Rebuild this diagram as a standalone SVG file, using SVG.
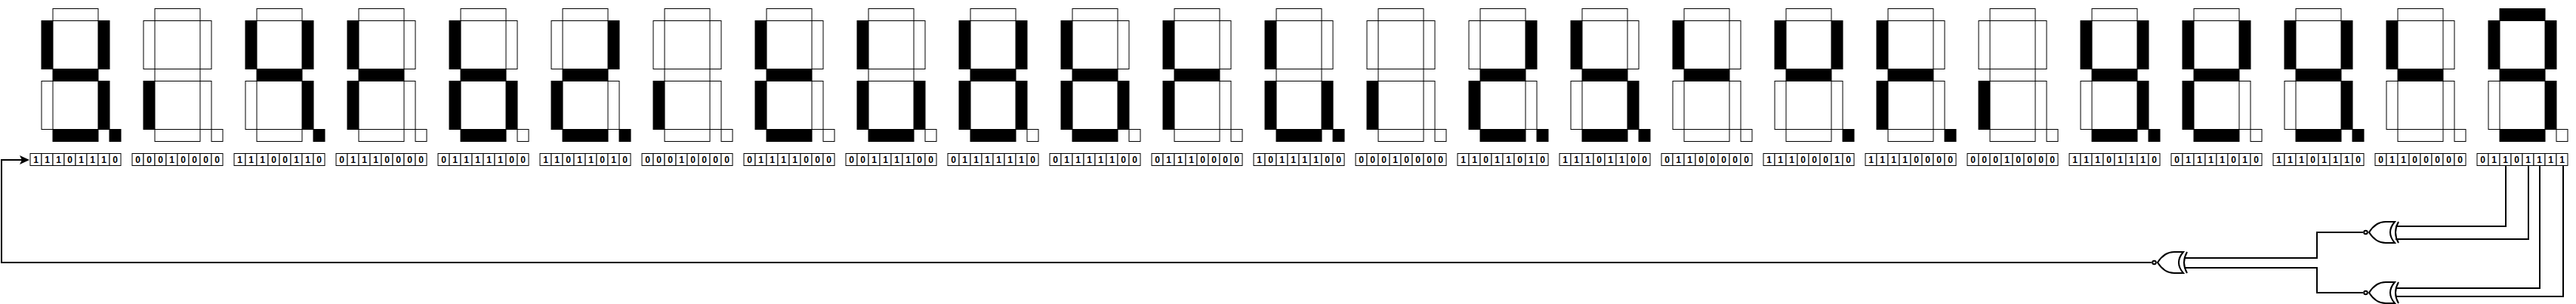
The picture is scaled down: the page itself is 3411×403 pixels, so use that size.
<svg xmlns="http://www.w3.org/2000/svg" width="3411" height="403" viewBox="0 0 3411 403">
<style>
.o{fill:#fff;stroke:#000;stroke-width:1}
.n{fill:#000;stroke:#000;stroke-width:1}
.c{fill:#fff;stroke:#000;stroke-width:1}
.b{font-family:"Liberation Sans",Arial,sans-serif;font-size:12px;font-weight:bold;text-anchor:middle;fill:#000}
.w{fill:none;stroke:#000;stroke-width:2;stroke-linejoin:miter}
.g{fill:#fff;stroke:#000;stroke-width:2;stroke-linejoin:miter}
.g2{fill:none;stroke:#000;stroke-width:2}
</style>
<defs>
<rect id="a" x="70" y="11.5" width="60" height="16"/>
<rect id="b" x="130" y="27.5" width="15" height="64"/>
<rect id="c" x="130" y="107.5" width="15" height="64"/>
<rect id="d" x="70" y="171.5" width="60" height="16"/>
<rect id="e" x="55" y="107.5" width="15" height="64"/>
<rect id="f" x="55" y="27.5" width="15" height="64"/>
<rect id="m" x="70" y="91.5" width="60" height="16"/>
<rect id="p" x="145" y="171.5" width="15" height="16"/>
<g id="cells" class="c">
<rect x="40" y="203.5" width="15" height="16"/><rect x="55" y="203.5" width="15" height="16"/><rect x="70" y="203.5" width="15" height="16"/><rect x="85" y="203.5" width="15" height="16"/><rect x="100" y="203.5" width="15" height="16"/><rect x="115" y="203.5" width="15" height="16"/><rect x="130" y="203.5" width="15" height="16"/><rect x="145" y="203.5" width="15" height="16"/>
</g>
<g id="xnor">
<path class="g" d="M0 0C5-8 11-14 22-14H34Q22 0 34 14H22C11 14 5 8 0 0Z"/>
<path class="g2" d="M39-14Q31 0 39 14"/>
<circle class="g" cx="-4.5" cy="0" r="2.3"/>
</g>
<marker id="arrow" markerUnits="userSpaceOnUse" markerWidth="13" markerHeight="12" viewBox="0 0 13 12" refX="3" refY="6" orient="auto"><path d="M0 0L13 6L0 12L3 6Z" fill="#000"/></marker>
</defs>
<g id="digit-0"><use href="#p" class="n"/><use href="#m" class="n"/><use href="#f" class="n"/><use href="#e" class="o"/><use href="#d" class="n"/><use href="#c" class="n"/><use href="#b" class="n"/><use href="#a" class="o"/><use href="#cells"/><text class="b" x="47.5" y="216">1</text><text class="b" x="62.5" y="216">1</text><text class="b" x="77.5" y="216">1</text><text class="b" x="92.5" y="216">0</text><text class="b" x="107.5" y="216">1</text><text class="b" x="122.5" y="216">1</text><text class="b" x="137.5" y="216">1</text><text class="b" x="152.5" y="216">0</text></g>
<g id="digit-1" transform="translate(135 0)"><use href="#p" class="o"/><use href="#m" class="o"/><use href="#f" class="o"/><use href="#e" class="n"/><use href="#d" class="o"/><use href="#c" class="o"/><use href="#b" class="o"/><use href="#a" class="o"/><use href="#cells"/><text class="b" x="47.5" y="216">0</text><text class="b" x="62.5" y="216">0</text><text class="b" x="77.5" y="216">0</text><text class="b" x="92.5" y="216">1</text><text class="b" x="107.5" y="216">0</text><text class="b" x="122.5" y="216">0</text><text class="b" x="137.5" y="216">0</text><text class="b" x="152.5" y="216">0</text></g>
<g id="digit-2" transform="translate(270 0)"><use href="#p" class="n"/><use href="#m" class="n"/><use href="#f" class="n"/><use href="#e" class="o"/><use href="#d" class="o"/><use href="#c" class="n"/><use href="#b" class="n"/><use href="#a" class="o"/><use href="#cells"/><text class="b" x="47.5" y="216">1</text><text class="b" x="62.5" y="216">1</text><text class="b" x="77.5" y="216">1</text><text class="b" x="92.5" y="216">0</text><text class="b" x="107.5" y="216">0</text><text class="b" x="122.5" y="216">1</text><text class="b" x="137.5" y="216">1</text><text class="b" x="152.5" y="216">0</text></g>
<g id="digit-3" transform="translate(405 0)"><use href="#p" class="o"/><use href="#m" class="n"/><use href="#f" class="n"/><use href="#e" class="n"/><use href="#d" class="o"/><use href="#c" class="o"/><use href="#b" class="o"/><use href="#a" class="o"/><use href="#cells"/><text class="b" x="47.5" y="216">0</text><text class="b" x="62.5" y="216">1</text><text class="b" x="77.5" y="216">1</text><text class="b" x="92.5" y="216">1</text><text class="b" x="107.5" y="216">0</text><text class="b" x="122.5" y="216">0</text><text class="b" x="137.5" y="216">0</text><text class="b" x="152.5" y="216">0</text></g>
<g id="digit-4" transform="translate(540 0)"><use href="#p" class="o"/><use href="#m" class="n"/><use href="#f" class="n"/><use href="#e" class="n"/><use href="#d" class="n"/><use href="#c" class="n"/><use href="#b" class="o"/><use href="#a" class="o"/><use href="#cells"/><text class="b" x="47.5" y="216">0</text><text class="b" x="62.5" y="216">1</text><text class="b" x="77.5" y="216">1</text><text class="b" x="92.5" y="216">1</text><text class="b" x="107.5" y="216">1</text><text class="b" x="122.5" y="216">1</text><text class="b" x="137.5" y="216">0</text><text class="b" x="152.5" y="216">0</text></g>
<g id="digit-5" transform="translate(675 0)"><use href="#p" class="n"/><use href="#m" class="n"/><use href="#f" class="o"/><use href="#e" class="n"/><use href="#d" class="n"/><use href="#c" class="o"/><use href="#b" class="n"/><use href="#a" class="o"/><use href="#cells"/><text class="b" x="47.5" y="216">1</text><text class="b" x="62.5" y="216">1</text><text class="b" x="77.5" y="216">0</text><text class="b" x="92.5" y="216">1</text><text class="b" x="107.5" y="216">1</text><text class="b" x="122.5" y="216">0</text><text class="b" x="137.5" y="216">1</text><text class="b" x="152.5" y="216">0</text></g>
<g id="digit-6" transform="translate(810 0)"><use href="#p" class="o"/><use href="#m" class="o"/><use href="#f" class="o"/><use href="#e" class="n"/><use href="#d" class="o"/><use href="#c" class="o"/><use href="#b" class="o"/><use href="#a" class="o"/><use href="#cells"/><text class="b" x="47.5" y="216">0</text><text class="b" x="62.5" y="216">0</text><text class="b" x="77.5" y="216">0</text><text class="b" x="92.5" y="216">1</text><text class="b" x="107.5" y="216">0</text><text class="b" x="122.5" y="216">0</text><text class="b" x="137.5" y="216">0</text><text class="b" x="152.5" y="216">0</text></g>
<g id="digit-7" transform="translate(945 0)"><use href="#p" class="o"/><use href="#m" class="n"/><use href="#f" class="n"/><use href="#e" class="n"/><use href="#d" class="n"/><use href="#c" class="o"/><use href="#b" class="o"/><use href="#a" class="o"/><use href="#cells"/><text class="b" x="47.5" y="216">0</text><text class="b" x="62.5" y="216">1</text><text class="b" x="77.5" y="216">1</text><text class="b" x="92.5" y="216">1</text><text class="b" x="107.5" y="216">1</text><text class="b" x="122.5" y="216">0</text><text class="b" x="137.5" y="216">0</text><text class="b" x="152.5" y="216">0</text></g>
<g id="digit-8" transform="translate(1080 0)"><use href="#p" class="o"/><use href="#m" class="o"/><use href="#f" class="n"/><use href="#e" class="n"/><use href="#d" class="n"/><use href="#c" class="n"/><use href="#b" class="o"/><use href="#a" class="o"/><use href="#cells"/><text class="b" x="47.5" y="216">0</text><text class="b" x="62.5" y="216">0</text><text class="b" x="77.5" y="216">1</text><text class="b" x="92.5" y="216">1</text><text class="b" x="107.5" y="216">1</text><text class="b" x="122.5" y="216">1</text><text class="b" x="137.5" y="216">0</text><text class="b" x="152.5" y="216">0</text></g>
<g id="digit-9" transform="translate(1215 0)"><use href="#p" class="o"/><use href="#m" class="n"/><use href="#f" class="n"/><use href="#e" class="n"/><use href="#d" class="n"/><use href="#c" class="n"/><use href="#b" class="n"/><use href="#a" class="o"/><use href="#cells"/><text class="b" x="47.5" y="216">0</text><text class="b" x="62.5" y="216">1</text><text class="b" x="77.5" y="216">1</text><text class="b" x="92.5" y="216">1</text><text class="b" x="107.5" y="216">1</text><text class="b" x="122.5" y="216">1</text><text class="b" x="137.5" y="216">1</text><text class="b" x="152.5" y="216">0</text></g>
<g id="digit-10" transform="translate(1350 0)"><use href="#p" class="o"/><use href="#m" class="n"/><use href="#f" class="n"/><use href="#e" class="n"/><use href="#d" class="n"/><use href="#c" class="n"/><use href="#b" class="o"/><use href="#a" class="o"/><use href="#cells"/><text class="b" x="47.5" y="216">0</text><text class="b" x="62.5" y="216">1</text><text class="b" x="77.5" y="216">1</text><text class="b" x="92.5" y="216">1</text><text class="b" x="107.5" y="216">1</text><text class="b" x="122.5" y="216">1</text><text class="b" x="137.5" y="216">0</text><text class="b" x="152.5" y="216">0</text></g>
<g id="digit-11" transform="translate(1485 0)"><use href="#p" class="o"/><use href="#m" class="n"/><use href="#f" class="n"/><use href="#e" class="n"/><use href="#d" class="o"/><use href="#c" class="o"/><use href="#b" class="o"/><use href="#a" class="o"/><use href="#cells"/><text class="b" x="47.5" y="216">0</text><text class="b" x="62.5" y="216">1</text><text class="b" x="77.5" y="216">1</text><text class="b" x="92.5" y="216">1</text><text class="b" x="107.5" y="216">0</text><text class="b" x="122.5" y="216">0</text><text class="b" x="137.5" y="216">0</text><text class="b" x="152.5" y="216">0</text></g>
<g id="digit-12" transform="translate(1620 0)"><use href="#p" class="n"/><use href="#m" class="o"/><use href="#f" class="n"/><use href="#e" class="n"/><use href="#d" class="n"/><use href="#c" class="n"/><use href="#b" class="o"/><use href="#a" class="o"/><use href="#cells"/><text class="b" x="47.5" y="216">1</text><text class="b" x="62.5" y="216">0</text><text class="b" x="77.5" y="216">1</text><text class="b" x="92.5" y="216">1</text><text class="b" x="107.5" y="216">1</text><text class="b" x="122.5" y="216">1</text><text class="b" x="137.5" y="216">0</text><text class="b" x="152.5" y="216">0</text></g>
<g id="digit-13" transform="translate(1755 0)"><use href="#p" class="o"/><use href="#m" class="o"/><use href="#f" class="o"/><use href="#e" class="n"/><use href="#d" class="o"/><use href="#c" class="o"/><use href="#b" class="o"/><use href="#a" class="o"/><use href="#cells"/><text class="b" x="47.5" y="216">0</text><text class="b" x="62.5" y="216">0</text><text class="b" x="77.5" y="216">0</text><text class="b" x="92.5" y="216">1</text><text class="b" x="107.5" y="216">0</text><text class="b" x="122.5" y="216">0</text><text class="b" x="137.5" y="216">0</text><text class="b" x="152.5" y="216">0</text></g>
<g id="digit-14" transform="translate(1890 0)"><use href="#p" class="n"/><use href="#m" class="n"/><use href="#f" class="o"/><use href="#e" class="n"/><use href="#d" class="n"/><use href="#c" class="o"/><use href="#b" class="n"/><use href="#a" class="o"/><use href="#cells"/><text class="b" x="47.5" y="216">1</text><text class="b" x="62.5" y="216">1</text><text class="b" x="77.5" y="216">0</text><text class="b" x="92.5" y="216">1</text><text class="b" x="107.5" y="216">1</text><text class="b" x="122.5" y="216">0</text><text class="b" x="137.5" y="216">1</text><text class="b" x="152.5" y="216">0</text></g>
<g id="digit-15" transform="translate(2025 0)"><use href="#p" class="n"/><use href="#m" class="n"/><use href="#f" class="n"/><use href="#e" class="o"/><use href="#d" class="n"/><use href="#c" class="n"/><use href="#b" class="o"/><use href="#a" class="o"/><use href="#cells"/><text class="b" x="47.5" y="216">1</text><text class="b" x="62.5" y="216">1</text><text class="b" x="77.5" y="216">1</text><text class="b" x="92.5" y="216">0</text><text class="b" x="107.5" y="216">1</text><text class="b" x="122.5" y="216">1</text><text class="b" x="137.5" y="216">0</text><text class="b" x="152.5" y="216">0</text></g>
<g id="digit-16" transform="translate(2160 0)"><use href="#p" class="o"/><use href="#m" class="n"/><use href="#f" class="n"/><use href="#e" class="o"/><use href="#d" class="o"/><use href="#c" class="o"/><use href="#b" class="o"/><use href="#a" class="o"/><use href="#cells"/><text class="b" x="47.5" y="216">0</text><text class="b" x="62.5" y="216">1</text><text class="b" x="77.5" y="216">1</text><text class="b" x="92.5" y="216">0</text><text class="b" x="107.5" y="216">0</text><text class="b" x="122.5" y="216">0</text><text class="b" x="137.5" y="216">0</text><text class="b" x="152.5" y="216">0</text></g>
<g id="digit-17" transform="translate(2295 0)"><use href="#p" class="n"/><use href="#m" class="n"/><use href="#f" class="n"/><use href="#e" class="o"/><use href="#d" class="o"/><use href="#c" class="o"/><use href="#b" class="n"/><use href="#a" class="o"/><use href="#cells"/><text class="b" x="47.5" y="216">1</text><text class="b" x="62.5" y="216">1</text><text class="b" x="77.5" y="216">1</text><text class="b" x="92.5" y="216">0</text><text class="b" x="107.5" y="216">0</text><text class="b" x="122.5" y="216">0</text><text class="b" x="137.5" y="216">1</text><text class="b" x="152.5" y="216">0</text></g>
<g id="digit-18" transform="translate(2430 0)"><use href="#p" class="n"/><use href="#m" class="n"/><use href="#f" class="n"/><use href="#e" class="n"/><use href="#d" class="o"/><use href="#c" class="o"/><use href="#b" class="o"/><use href="#a" class="o"/><use href="#cells"/><text class="b" x="47.5" y="216">1</text><text class="b" x="62.5" y="216">1</text><text class="b" x="77.5" y="216">1</text><text class="b" x="92.5" y="216">1</text><text class="b" x="107.5" y="216">0</text><text class="b" x="122.5" y="216">0</text><text class="b" x="137.5" y="216">0</text><text class="b" x="152.5" y="216">0</text></g>
<g id="digit-19" transform="translate(2565 0)"><use href="#p" class="o"/><use href="#m" class="o"/><use href="#f" class="o"/><use href="#e" class="n"/><use href="#d" class="o"/><use href="#c" class="o"/><use href="#b" class="o"/><use href="#a" class="o"/><use href="#cells"/><text class="b" x="47.5" y="216">0</text><text class="b" x="62.5" y="216">0</text><text class="b" x="77.5" y="216">0</text><text class="b" x="92.5" y="216">1</text><text class="b" x="107.5" y="216">0</text><text class="b" x="122.5" y="216">0</text><text class="b" x="137.5" y="216">0</text><text class="b" x="152.5" y="216">0</text></g>
<g id="digit-20" transform="translate(2700 0)"><use href="#p" class="n"/><use href="#m" class="n"/><use href="#f" class="n"/><use href="#e" class="o"/><use href="#d" class="n"/><use href="#c" class="n"/><use href="#b" class="n"/><use href="#a" class="o"/><use href="#cells"/><text class="b" x="47.5" y="216">1</text><text class="b" x="62.5" y="216">1</text><text class="b" x="77.5" y="216">1</text><text class="b" x="92.5" y="216">0</text><text class="b" x="107.5" y="216">1</text><text class="b" x="122.5" y="216">1</text><text class="b" x="137.5" y="216">1</text><text class="b" x="152.5" y="216">0</text></g>
<g id="digit-21" transform="translate(2835 0)"><use href="#p" class="o"/><use href="#m" class="n"/><use href="#f" class="n"/><use href="#e" class="n"/><use href="#d" class="n"/><use href="#c" class="o"/><use href="#b" class="n"/><use href="#a" class="o"/><use href="#cells"/><text class="b" x="47.5" y="216">0</text><text class="b" x="62.5" y="216">1</text><text class="b" x="77.5" y="216">1</text><text class="b" x="92.5" y="216">1</text><text class="b" x="107.5" y="216">1</text><text class="b" x="122.5" y="216">0</text><text class="b" x="137.5" y="216">1</text><text class="b" x="152.5" y="216">0</text></g>
<g id="digit-22" transform="translate(2970 0)"><use href="#p" class="n"/><use href="#m" class="n"/><use href="#f" class="n"/><use href="#e" class="o"/><use href="#d" class="n"/><use href="#c" class="n"/><use href="#b" class="n"/><use href="#a" class="o"/><use href="#cells"/><text class="b" x="47.5" y="216">1</text><text class="b" x="62.5" y="216">1</text><text class="b" x="77.5" y="216">1</text><text class="b" x="92.5" y="216">0</text><text class="b" x="107.5" y="216">1</text><text class="b" x="122.5" y="216">1</text><text class="b" x="137.5" y="216">1</text><text class="b" x="152.5" y="216">0</text></g>
<g id="digit-23" transform="translate(3105 0)"><use href="#p" class="o"/><use href="#m" class="n"/><use href="#f" class="n"/><use href="#e" class="o"/><use href="#d" class="o"/><use href="#c" class="o"/><use href="#b" class="o"/><use href="#a" class="o"/><use href="#cells"/><text class="b" x="47.5" y="216">0</text><text class="b" x="62.5" y="216">1</text><text class="b" x="77.5" y="216">1</text><text class="b" x="92.5" y="216">0</text><text class="b" x="107.5" y="216">0</text><text class="b" x="122.5" y="216">0</text><text class="b" x="137.5" y="216">0</text><text class="b" x="152.5" y="216">0</text></g>
<g id="digit-24" transform="translate(3240 0)"><use href="#p" class="o"/><use href="#m" class="n"/><use href="#f" class="n"/><use href="#e" class="o"/><use href="#d" class="n"/><use href="#c" class="n"/><use href="#b" class="n"/><use href="#a" class="n"/><use href="#cells"/><text class="b" x="47.5" y="216">0</text><text class="b" x="62.5" y="216">1</text><text class="b" x="77.5" y="216">1</text><text class="b" x="92.5" y="216">0</text><text class="b" x="107.5" y="216">1</text><text class="b" x="122.5" y="216">1</text><text class="b" x="137.5" y="216">1</text><text class="b" x="152.5" y="216">1</text></g>
<g id="connectors">
<path class="w" d="M2849 348H2V212H29" marker-end="url(#arrow)"/>
<path class="w" d="M3129 308H3068V342H2892"/>
<path class="w" d="M3129 388H3068V355H2892"/>
<path class="w" d="M3318 220V300H3172"/>
<path class="w" d="M3348 220V317H3172"/>
<path class="w" d="M3363 220V382H3172"/>
<path class="w" d="M3394 220V393H3172"/>
</g>
<g id="gate-1" transform="translate(3137 308)"><use href="#xnor"/></g>
<g id="gate-2" transform="translate(3137 388)"><use href="#xnor"/></g>
<g id="gate-3" transform="translate(2857 348)"><use href="#xnor"/></g>
</svg>
